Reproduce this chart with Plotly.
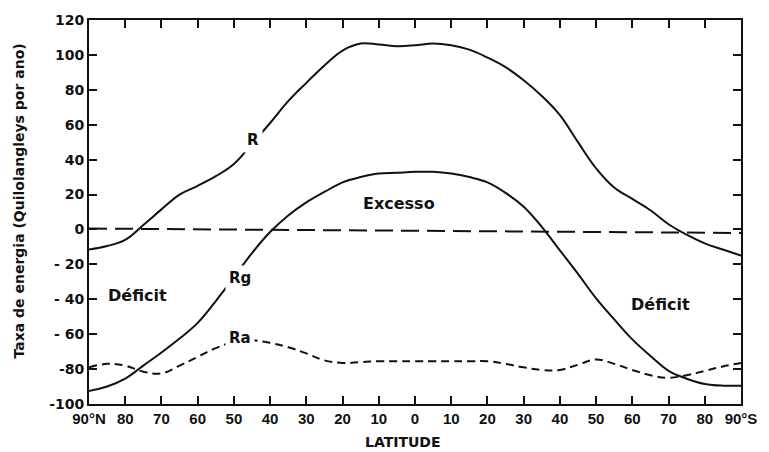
import plotly.graph_objects as go

# Latitude grid, north positive (90°N ... 90°S), 5° steps
latitude = [90, 85, 80, 75, 70, 65, 60, 55, 50, 45, 40, 35, 30, 25, 20, 15, 10, 5, 0,
            -5, -10, -15, -20, -25, -30, -35, -40, -45, -50, -55, -60, -65, -70, -75, -80, -85, -90]

# Net radiation balance R (kly/yr)
r_values = [-11.5, -9.5, -6, 2.5, 11.5, 20, 25, 30.5, 37.5, 49, 61, 73.5, 84, 94, 102.5, 106.5, 106, 105, 105.5,
            106.5, 105.5, 103, 98.5, 93, 85.5, 76.5, 65.5, 50, 35, 24, 17.5, 11, 3, -3, -8, -11.5, -15]

# Surface balance Rg (kly/yr)
rg_values = [-92.5, -90, -85.5, -78, -70.5, -62.5, -53.5, -41, -27.5, -13.5, -1.5, 8, 15.5, 21.5, 27, 30, 32, 32.5, 33,
             33, 32, 30, 27, 21, 13, 1.5, -12, -25.5, -39.5, -51.5, -63, -72.5, -81, -85.5, -88.5, -89.5, -89.5]

# Atmospheric balance Ra (kly/yr)
ra_values = [-79, -77, -78, -81.5, -82.5, -78, -73, -68, -64.5, -63.5, -65, -67.5, -71, -75, -76.5, -76, -75.5, -75.5, -75.5,
             -75.5, -75.5, -75.5, -75.5, -77, -79, -80.5, -80.5, -77.5, -74.5, -77, -80.5, -83.5, -85, -83.5, -81, -78.5, -76.5]

# Zero reference line end points
ref_lat = [90, -90]
ref_values = [0.5, -2]

# Axis ticks
x_tickvals = [90, 80, 70, 60, 50, 40, 30, 20, 10, 0, -10, -20, -30, -40, -50, -60, -70, -80, -90]
x_ticktext = ["90°N", "80", "70", "60", "50", "40", "30", "20", "10", "0",
              "10", "20", "30", "40", "50", "60", "70", "80", "90°S"]
y_tickvals = [-100, -80, -60, -40, -20, 0, 20, 40, 60, 80, 100, 120]
y_ticktext = ["-100", "-80", "- 60", "- 40", "- 20", "0", "20", "40", "60", "80", "100", "120"]

INK = "#111111"
LABEL_FONT = dict(family="DejaVu Sans", size=15, color=INK, weight="bold")

fig = go.Figure()

fig.add_trace(go.Scatter(x=ref_lat, y=ref_values, mode="lines",
                         line=dict(color=INK, width=2, dash="18px,8px"), hoverinfo="skip"))
fig.add_trace(go.Scatter(x=latitude, y=ra_values, mode="lines", name="Ra",
                         line=dict(color=INK, width=2, dash="8px,5px", shape="spline", smoothing=1.1)))
fig.add_trace(go.Scatter(x=latitude, y=rg_values, mode="lines", name="Rg",
                         line=dict(color=INK, width=2, shape="spline", smoothing=1.1)))
fig.add_trace(go.Scatter(x=latitude, y=r_values, mode="lines", name="R",
                         line=dict(color=INK, width=2, shape="spline", smoothing=1.1)))

# Curve labels sit on the curves with a white box that breaks the line
curve_labels = [("R", 44.6, 51), ("Rg", 48.3, -27.6), ("Ra", 48.3, -62.4)]
for text, lx, ly in curve_labels:
    fig.add_annotation(x=lx, y=ly, text=text, showarrow=False, font=LABEL_FONT,
                       bgcolor="white", borderpad=3)

region_labels = [("Excesso", 4.4, 15.1), ("Déficit", 76.5, -37.9), ("Déficit", -67.9, -43)]
for text, lx, ly in region_labels:
    fig.add_annotation(x=lx, y=ly, text=text, showarrow=False,
                       font=dict(family="DejaVu Sans", size=16, color=INK, weight="bold"))

# Axis titles
fig.add_annotation(xref="paper", yref="paper", x=0.4816, y=-0.1, xanchor="center", yanchor="middle",
                   text="LATITUDE", showarrow=False,
                   font=dict(family="DejaVu Sans", size=14, color=INK, weight="bold"))
fig.add_annotation(xref="paper", yref="paper", x=-0.107, y=0.528, xanchor="center", yanchor="middle",
                   text="Taxa de energia (Quilolangleys por ano)", textangle=-90,
                   showarrow=False, font=dict(family="DejaVu Sans", size=14, color=INK, weight="bold"))

axis_common = dict(showgrid=False, zeroline=False, showline=True, linecolor=INK, linewidth=2,
                   mirror="ticks", ticks="inside", ticklen=8, tickwidth=2, tickcolor=INK)

fig.update_xaxes(range=[90, -90], tickmode="array", tickvals=x_tickvals, ticktext=x_ticktext,
                 tickfont=dict(family="Liberation Sans", size=15, color=INK, weight="bold"),
                 **axis_common)
fig.update_yaxes(range=[-100, 120], tickmode="array", tickvals=y_tickvals, ticktext=y_ticktext,
                 tickfont=dict(family="DejaVu Sans", size=14, color=INK, weight="bold"),
                 **axis_common)

fig.update_layout(width=769, height=452, showlegend=False,
                  margin=dict(l=89, r=28, t=18, b=48),
                  paper_bgcolor="white", plot_bgcolor="white")

fig.write_html("out.html")
